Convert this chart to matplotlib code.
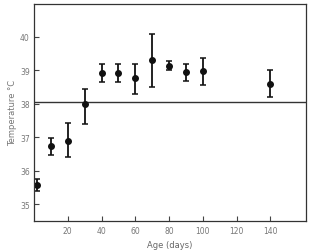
import matplotlib
matplotlib.use("Agg")
import matplotlib.pyplot as plt
import numpy as np

age_days = [2, 10, 20, 30, 40, 50, 60, 70, 80, 90, 100, 140]
temp_mean = [35.57, 36.74, 36.9, 37.99, 38.91, 38.93, 38.76, 39.3, 39.14, 38.96, 38.98, 38.6]
err_low = [0.19, 0.26, 0.48, 0.58, 0.27, 0.29, 0.48, 0.8, 0.13, 0.27, 0.42, 0.39]
err_high = [0.19, 0.23, 0.52, 0.44, 0.27, 0.25, 0.42, 0.79, 0.13, 0.24, 0.39, 0.41]
x_ticks = [20, 40, 60, 80, 100, 120, 140]
y_ticks = [35, 36, 37, 38, 39, 40]
ref_temp = 38.05

fig = plt.figure(figsize=(3.09, 2.51), dpi=100)
ax = fig.add_axes([0.110, 0.116, 0.880, 0.866])

ax.errorbar(age_days, temp_mean, yerr=[err_low, err_high], fmt='o', color='#111111',
            ms=4.0, elinewidth=1.3, capsize=2.2, capthick=1.1)
ax.axhline(ref_temp, color='#333333', lw=1.0)

ax.set_xlim(0, 161)
ax.set_ylim(34.5, 41.0)
ax.set_xticks(x_ticks)
ax.set_yticks(y_ticks)
ax.tick_params(direction='in', length=3.5, width=0.8, colors='#444444',
               labelsize=5.5, labelcolor='#777777')
ax.tick_params(axis='x', pad=4)
ax.tick_params(axis='y', pad=3)
for s in ax.spines.values():
    s.set_color('#333333')
    s.set_linewidth(0.9)

ax.set_xlabel('Age (days)', fontsize=6, color='#666666', labelpad=3)
ax.set_ylabel('Temperature \u00b0C', fontsize=6, color='#777777', labelpad=2)

fig.savefig('out.png', dpi=100)
